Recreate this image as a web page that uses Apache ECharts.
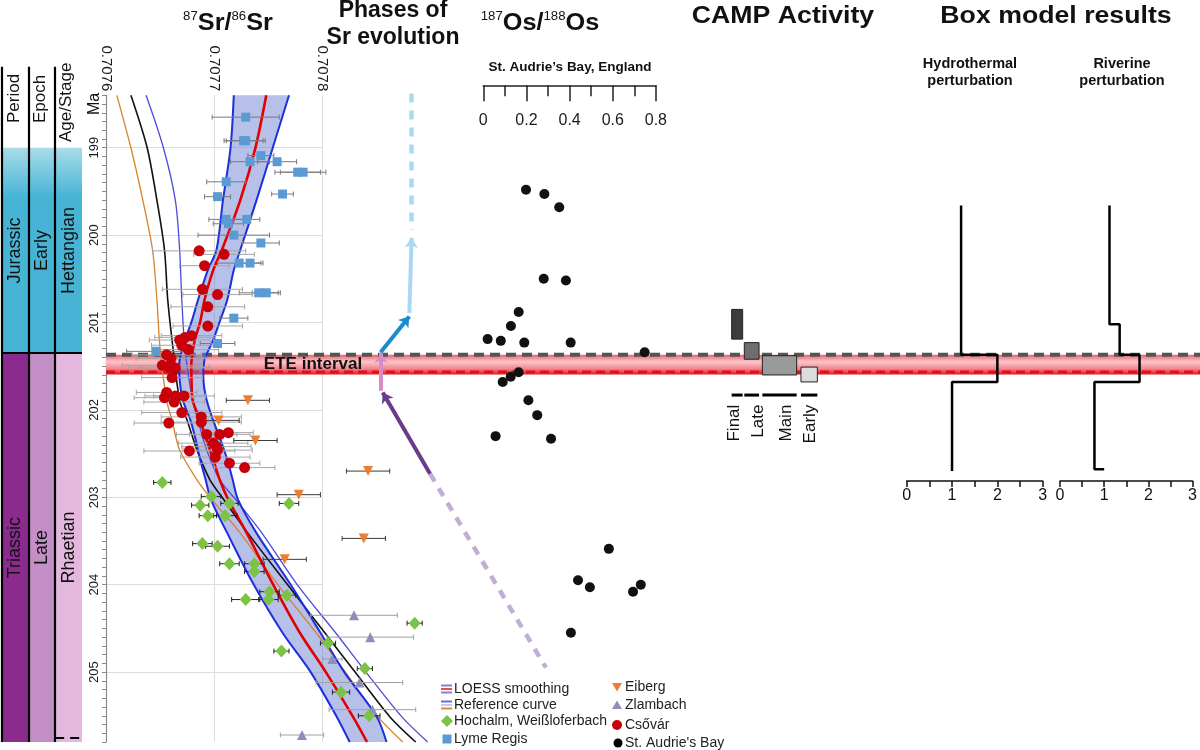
<!DOCTYPE html>
<html><head><meta charset="utf-8">
<script src="https://cdn.jsdelivr.net/npm/echarts@6/dist/echarts.min.js"></script>
<style>html,body{margin:0;padding:0;background:#fff}#c{width:1200px;height:750px}</style>
</head><body><div id="c"></div>
<script>
const FONT = "'Liberation Sans', Arial, Helvetica, sans-serif";

// ---------------- axis values ----------------
const srTicks = [0.7076, 0.7077, 0.7078];
const maRange = [198.4, 205.8];
const maStep = 0.1;
const osRange = [0, 0.8];
const osStep = 0.2;
const boxRange = [0, 3];

// ---------------- Sr curves ----------------
const loessMa   = [198.40,199.00,199.60,200.17,200.40,200.74,200.99,201.20,201.43,201.66,201.89,202.12,202.35,202.57,202.80,203.03,203.41,203.99,204.55,205.00,205.51,205.80];
const loessMid  = [0.707748,0.707738,0.707724,0.707707,0.707699,0.707691,0.707687,0.707682,0.707679,0.707679,0.707680,0.707687,0.707693,0.707699,0.707705,0.707713,0.707730,0.707754,0.707779,0.707803,0.707828,0.707841];
const loessLow  = [0.707718,0.707715,0.707708,0.707702,0.707694,0.707685,0.707679,0.707673,0.707668,0.707668,0.707671,0.707678,0.707683,0.707687,0.707692,0.707697,0.707712,0.707736,0.707763,0.707789,0.707813,0.707825];
const loessHigh = [0.707769,0.707754,0.707739,0.707724,0.707718,0.707712,0.707705,0.707699,0.707691,0.707690,0.707693,0.707699,0.707706,0.707712,0.707717,0.707722,0.707739,0.707770,0.707798,0.707820,0.707850,0.707859];

const refMa   = [198.40,199.00,199.60,200.17,200.74,201.31,201.89,202.12,202.46,202.80,203.03,203.41,203.99,204.55,205.00,205.51,205.80];
const refMid  = [0.707623,0.707638,0.707647,0.707654,0.707657,0.707662,0.707668,0.707675,0.707684,0.707696,0.707709,0.707731,0.707767,0.707802,0.707830,0.707862,0.707886];
const refLow  = [0.707610,0.707623,0.707634,0.707643,0.707647,0.707650,0.707656,0.707661,0.707668,0.707684,0.707698,0.707724,0.707758,0.707794,0.707821,0.707851,0.707874];
const refHigh = [0.707637,0.707653,0.707664,0.707668,0.707670,0.707673,0.707680,0.707685,0.707693,0.707705,0.707720,0.707744,0.707776,0.707812,0.707840,0.707873,0.707897];

// ---------------- Sr samples [Sr, Ma, ±err] ----------------
const lymeRegis = [
 [0.707729,198.65,31e-6],[0.707727,198.92,18e-6],[0.707729,198.92,18e-6],[0.707743,199.09,12e-6],
 [0.707733,199.16,18e-6],[0.707758,199.16,18e-6],[0.707777,199.28,21e-6],[0.707782,199.28,21e-6],
 [0.707711,199.39,18e-6],[0.707703,199.56,12e-6],[0.707763,199.53,10e-6],[0.707711,199.82,16e-6],
 [0.707730,199.82,12e-6],[0.707713,199.87,14e-6],[0.707718,200.00,33e-6],[0.707743,200.09,17e-6],
 [0.707723,200.32,20e-6],[0.707733,200.32,12e-6],[0.707741,200.66,18e-6],[0.707748,200.66,13e-6],
 [0.707718,200.95,13e-6],[0.707703,201.24,16e-6],[0.707646,201.33,27e-6]
];
const csovar = [
 [0.707686,200.18,43e-6],[0.707709,200.22,28e-6],[0.707691,200.35,23e-6],[0.707689,200.62,37e-6],
 [0.707703,200.68,32e-6],[0.707694,200.82,34e-6],[0.707694,201.04,32e-6],[0.707668,201.20,28e-6],
 [0.707673,201.17,28e-6],[0.707679,201.15,28e-6],[0.707670,201.26,28e-6],[0.707676,201.31,28e-6],
 [0.707656,201.37,32e-6],[0.707660,201.41,32e-6],[0.707652,201.49,37e-6],[0.707658,201.51,37e-6],
 [0.707664,201.52,32e-6],[0.707661,201.63,28e-6],[0.707656,201.80,28e-6],[0.707654,201.86,28e-6],
 [0.707664,201.84,28e-6],[0.707663,201.91,28e-6],[0.707672,201.84,28e-6],[0.707670,202.03,37e-6],
 [0.707658,202.15,32e-6],[0.707688,202.08,37e-6],[0.707688,202.14,37e-6],[0.707693,202.28,28e-6],
 [0.707705,202.28,28e-6],[0.707713,202.26,23e-6],[0.707699,202.38,32e-6],[0.707702,202.42,32e-6],
 [0.707703,202.46,32e-6],[0.707701,202.54,32e-6],[0.707677,202.47,42e-6],[0.707714,202.61,28e-6],
 [0.707728,202.66,28e-6]
];
const eiberg = [
 [0.707731,201.89,20e-6],[0.707704,202.12,19e-6],[0.707738,202.35,20e-6],[0.707842,202.70,20e-6],
 [0.707778,202.97,20e-6],[0.707838,203.47,20e-6],[0.707765,203.71,20e-6]
];
const hochalm = [
 [0.707652,202.83,8e-6],[0.707697,202.99,9e-6],[0.707687,203.09,8e-6],[0.707714,203.07,8e-6],
 [0.707769,203.07,9e-6],[0.707694,203.21,8e-6],[0.707710,203.21,11e-6],[0.707689,203.53,9e-6],
 [0.707703,203.56,11e-6],[0.707714,203.76,9e-6],[0.707737,203.76,9e-6],[0.707737,203.85,9e-6],
 [0.707751,204.08,9e-6],[0.707767,204.12,8e-6],[0.707729,204.17,13e-6],[0.707750,204.17,9e-6],
 [0.707885,204.44,7e-6],[0.707805,204.67,7e-6],[0.707762,204.76,7e-6],[0.707839,204.96,7e-6],
 [0.707817,205.23,8e-6],[0.707843,205.50,10e-6]
];
const zlambach = [
 [0.707829,204.35,40e-6],[0.707844,204.60,40e-6],[0.707809,204.85,9e-6],
 [0.707834,205.12,40e-6],[0.707846,205.43,40e-6],[0.707781,205.72,20e-6]
];

// ---------------- Os [187Os/188Os, Ma] ----------------
const osStAudrie = [
 [0.198,199.48],[0.283,199.53],[0.352,199.68],[0.280,200.50],[0.383,200.52],[0.164,200.88],
 [0.128,201.04],[0.020,201.19],[0.081,201.21],[0.190,201.23],[0.405,201.23],[0.748,201.34],
 [0.164,201.57],[0.127,201.62],[0.090,201.68],[0.209,201.89],[0.250,202.06],[0.057,202.30],
 [0.314,202.33],[0.582,203.59],[0.439,203.95],[0.494,204.03],[0.730,204.00],[0.694,204.08],
 [0.406,204.55]
];

// ---------------- ETE interval (Ma) ----------------
const eteTop = 201.37, eteRed = 201.565, eteBandBase = 201.595;

// ---------------- Phases of Sr evolution [x0, Ma0, x1, Ma1] (x: 0..1 within column) ----------------
const phaseArrows  = [[0.207,200.89,0.219,200.03],[0.056,201.34,0.207,200.93],[0.058,201.78,0.058,201.35],[0.316,202.73,0.067,201.80]];
const phaseDashed  = [[0.219,198.38,0.219,199.94],[0.316,202.73,0.926,204.95]];

// ---------------- CAMP activity ----------------
const campNames = ['Final','Late','Main','Early'];
const campX0 = [0.106,0.221,0.385,0.736];
const campX1 = [0.206,0.355,0.697,0.885];
const campLabelX = [0.132,0.345,0.600,0.818];
const campYoung = [200.85,201.23,201.38,201.51];
const campOld   = [201.19,201.42,201.60,201.68];
const campLineMa = 201.83, campLabelMa = 201.94;

// ---------------- Box model ----------------
const hydroLevels = [1.2, 2.0, 1.0];
const hydroBreaks = [199.66, 201.37, 201.68, 202.70];
const riverLevels = [1.12, 1.35, 1.8, 0.78];
const riverBreaks = [199.66, 201.02, 201.37, 201.68, 202.68];
const riverTail = 1.0;

// ---------------- Stratigraphy ----------------
const stratNames = ['Jurassic','Triassic','Early','Late','Hettangian','Rhaetian'];
const stratCol   = [0,0,1,1,2,2];
const stratTop   = [199.0,201.35,199.0,201.35,199.0,201.35];
const stratBase  = [201.35,205.8,201.35,205.8,201.35,205.8];
const stratBoundary = 201.35;
const rhaetianBaseMa = 205.75;

// ---------------- legend ----------------
const legendLeft = ['LOESS smoothing','Reference curve','Hochalm, Weißloferbach','Lyme Regis'];
const legendRight = ['Eiberg','Zlambach','Csővár',"St. Audrie's Bay"];

// ================= layout =================
const TOP = 95.3, H = 646.7;
const pxPerMa = H / (maRange[1] - maRange[0]);
const boxH = 481 - TOP;
const boxMax = maRange[0] + boxH / pxPerMa;
const headerMa = maRange[0] - (TOP - 66.7) / pxPerMa;

const C = {
  lyme:'#5b9bd5', csovar:'#c8000a', hoch:'#7cc243', eib:'#ed7d31', zlam:'#8f8dbb',
  red:'#e40000', blue:'#1a2fe0', ref:'#111', refLow:'#d9822b', refHigh:'#4b4bdc'
};
const jurFill = () => new echarts.graphic.LinearGradient(0,0,0,1,[{offset:0,color:'#a9dcea'},{offset:0.24,color:'#47b4d5'},{offset:1,color:'#47b4d5'}]);
const stratFills = [jurFill,()=> '#8a2b8d',jurFill,()=> '#c48fc7',jurFill,()=> '#e4b7de'];
const campColors = ['#3c3c3c','#6e6e6e','#9a9a9a','#dcdcdc'];

const nTickToInt = Math.round((Math.ceil(maRange[0]) - maRange[0]) / maStep) % 10;
const gridColors = Array.from({length:10}, (_,i)=> i===nTickToInt ? '#dcdcdc' : 'rgba(0,0,0,0)');

function hiddenX(gi, min, max){ return {type:'value', gridIndex:gi, min, max, show:false}; }
function hiddenY(gi, max){ return {type:'value', gridIndex:gi, min:maRange[0], max:max, inverse:true, show:false}; }

function errRender(color){
  return function(params, api){
    const sr = api.value(0), ma = api.value(1), e = api.value(2);
    const a = api.coord([sr - e, ma]), b = api.coord([sr + e, ma]);
    const st = {stroke: color, lineWidth: 1};
    return {type:'group', children:[
      {type:'line', shape:{x1:a[0],y1:a[1],x2:b[0],y2:b[1]}, style:st},
      {type:'line', shape:{x1:a[0],y1:a[1]-2.5,x2:a[0],y2:a[1]+2.5}, style:st},
      {type:'line', shape:{x1:b[0],y1:b[1]-2.5,x2:b[0],y2:b[1]+2.5}, style:st}
    ]};
  };
}
function errSeries(data, color){
  return {type:'custom', xAxisIndex:1, yAxisIndex:1, data, encode:{x:0,y:1}, renderItem:errRender(color), clip:false, silent:true, z:5};
}
function sc(data, symbol, size, color, extra){
  return Object.assign({type:'scatter', xAxisIndex:1, yAxisIndex:1, data:data.map(d=>[d[0],d[1]]), symbol, symbolSize:size,
    itemStyle:{color, opacity:1}, clip:false, silent:true, z:6}, extra||{});
}
function curve(xs, ys, color, width){
  return {type:'custom', xAxisIndex:1, yAxisIndex:1, data:[[xs[0], ys[0]]], clip:false, silent:true, z:4,
    renderItem:(p, api)=>({type:'polyline', shape:{points: ys.map((m,i)=>api.coord([xs[i], m])), smooth:0.3},
      style:{stroke:color, lineWidth:width, fill:null}})};
}
function stepData(levels, breaks, tail){
  const pts = [];
  levels.forEach((v,i)=>{ pts.push([v, breaks[i]]); pts.push([v, breaks[i+1]]); });
  if (tail !== undefined) pts.push([tail, breaks[breaks.length-1]]);
  return pts;
}
function txt(x, y, text, size, opts){
  opts = opts || {};
  const align = opts.align || 'center', va = opts.va || 'middle';
  return {type:'text', x, y, rotation: opts.rot || 0, scaleX: opts.sx || 1, silent:true, z:50,
    style:{text, fontSize:size, fontFamily:FONT, fontWeight: opts.bold ? 'bold':'normal', fill: opts.color || '#111',
      align, textAlign:align, verticalAlign:va, textVerticalAlign:va, lineHeight: opts.lh, rich: opts.rich}};
}

const richTitle = {
  sup:{fontSize:12, fontFamily:FONT, verticalAlign:'top', lineHeight:14, fill:'#111'},
  b:{fontSize:23, fontFamily:FONT, fontWeight:'bold', lineHeight:26, fill:'#111'}
};

const graphics = [
  txt(228, 23.5, '{sup|87}{b|Sr/}{sup|86}{b|Sr}', 23, {sx:1.1, rich:richTitle}),
  txt(540, 23.5, '{sup|187}{b|Os/}{sup|188}{b|Os}', 23, {sx:1.1, rich:richTitle}),
  txt(393, 24.5, 'Phases of\nSr evolution', 23, {bold:true, lh:27}),
  txt(783, 17, 'CAMP Activity', 23, {bold:true, sx:1.16}),
  txt(1056, 17, 'Box model results', 23, {bold:true, sx:1.16}),
  txt(570, 67, "St. Audrie’s Bay, England", 13.5, {bold:true}),
  txt(970, 72, 'Hydrothermal\nperturbation', 14.5, {bold:true, lh:17}),
  txt(1122, 72, 'Riverine\nperturbation', 14.5, {bold:true, lh:17}),
  txt(14, 123, 'Period', 17, {rot:Math.PI/2, align:'left'}),
  txt(40, 123, 'Epoch', 17, {rot:Math.PI/2, align:'left'}),
  txt(66, 142, 'Age/Stage', 17, {rot:Math.PI/2, align:'left'}),
  txt(95, 104, 'Ma', 16, {rot:Math.PI/2}),
  txt(313, 364.5, 'ETE interval', 17, {bold:true, color:'#111'})
];
// legend
const legY1 = [689, 705, 721, 739], legY2 = [687, 705, 725, 743];
legendLeft.forEach((t,i)=> graphics.push(txt(454, legY1[i], t, 14, {align:'left', color:'#222'})));
legendRight.forEach((t,i)=> graphics.push(txt(625, legY2[i], t, 14, {align:'left', color:'#222'})));
[['#8c7fc4','#e0505a','#8c7fc4'],['#6a6ae0','#c8c8ee','#e08a30']].forEach((cols,k)=>{
  cols.forEach((c,j)=> graphics.push({type:'rect', silent:true, z:50, shape:{x:441, y:legY1[k]-4.5+j*3.5, width:11, height:2}, style:{fill:c}}));
});
graphics.push({type:'polygon', silent:true, z:50, shape:{points:[[447,legY1[2]-6],[453,legY1[2]],[447,legY1[2]+6],[441,legY1[2]]]}, style:{fill:C.hoch}});
graphics.push({type:'rect', silent:true, z:50, shape:{x:442.5, y:legY1[3]-4.5, width:9, height:9}, style:{fill:C.lyme}});
graphics.push({type:'polygon', silent:true, z:50, shape:{points:[[612,legY2[0]-4],[622,legY2[0]-4],[617,legY2[0]+4.5]]}, style:{fill:C.eib}});
graphics.push({type:'polygon', silent:true, z:50, shape:{points:[[612,legY2[1]+4],[622,legY2[1]+4],[617,legY2[1]-4.5]]}, style:{fill:C.zlam}});
graphics.push({type:'circle', silent:true, z:50, shape:{cx:617, cy:legY2[2], r:5}, style:{fill:C.csovar}});
graphics.push({type:'circle', silent:true, z:50, shape:{cx:618, cy:legY2[3], r:4.5}, style:{fill:'#000'}});

const option = {
  animation:false,
  backgroundColor:'#fff',
  textStyle:{fontFamily:FONT},
  grid:[
    {left:1.5, top:TOP, width:80.5, height:H},          // 0 strat
    {left:106, top:TOP, width:216.6, height:H},         // 1 Sr
    {left:106, top:TOP, width:1094, height:H},          // 2 ETE band
    {left:370, top:TOP, width:190, height:H},           // 3 phases
    {left:483.3, top:TOP, width:172.6, height:H},       // 4 Os
    {left:720, top:TOP, width:110, height:H},           // 5 CAMP
    {left:906.7, top:TOP, width:136, height:boxH},      // 6 hydro
    {left:1060, top:TOP, width:136, height:boxH}        // 7 river
  ],
  xAxis:[
    hiddenX(0,0,3),
    {type:'value', gridIndex:1, position:'top', min:srTicks[0], max:srTicks[srTicks.length-1], interval:+(srTicks[1]-srTicks[0]).toFixed(6),
      axisLine:{show:false, onZero:false}, axisTick:{show:false},
      axisLabel:{rotate:90, margin:4, fontSize:15, color:'#1a1a1a', fontFamily:FONT, formatter:v=>v.toFixed(4)},
      splitLine:{show:true, lineStyle:{color:'#dcdcdc', width:1}}},
    hiddenX(2,0,1),
    hiddenX(3,0,1),
    {type:'value', gridIndex:4, position:'top', offset:10, min:osRange[0], max:osRange[1], interval:osStep,
      axisLine:{show:true, onZero:false, lineStyle:{color:'#222', width:1.5}},
      axisTick:{show:true, inside:true, length:16, lineStyle:{color:'#222', width:1.5}},
      minorTick:{show:true, splitNumber:2, length:11, lineStyle:{color:'#222', width:1.5}},
      axisLabel:{inside:true, margin:27, fontSize:16, color:'#1a1a1a', fontFamily:FONT},
      splitLine:{show:false}},
    hiddenX(5,0,1),
    ...[6,7].map(gi=>({type:'value', gridIndex:gi, position:'bottom', min:boxRange[0], max:boxRange[1], interval:1,
      axisLine:{show:true, onZero:false, lineStyle:{color:'#111', width:1.5}},
      axisTick:{show:true, inside:false, length:6, lineStyle:{color:'#111', width:1.5}},
      minorTick:{show:true, splitNumber:2, length:6, lineStyle:{color:'#111', width:1.5}},
      axisLabel:{margin:7, fontSize:16, color:'#111', fontFamily:FONT},
      splitLine:{show:false}}))
  ],
  yAxis:[
    hiddenY(0, maRange[1]),
    {type:'value', gridIndex:1, inverse:true, min:maRange[0], max:maRange[1], interval:maStep,
      axisLine:{show:true, onZero:false, lineStyle:{color:'#8a8a8a', width:1.2}},
      axisTick:{show:true, length:4, lineStyle:{color:'#8a8a8a'}},
      axisLabel:{rotate:90, margin:5, fontSize:13, color:'#1a1a1a', fontFamily:FONT,
        formatter:v=> Math.abs(v-Math.round(v))<1e-6 ? String(Math.round(v)) : ''},
      splitLine:{show:true, lineStyle:{color:gridColors, width:1}}},
    hiddenY(2, maRange[1]), hiddenY(3, maRange[1]), hiddenY(4, maRange[1]), hiddenY(5, maRange[1]),
    hiddenY(6, boxMax), hiddenY(7, boxMax)
  ],
  series:[
    // ETE band
    {type:'custom', xAxisIndex:2, yAxisIndex:2, data:[[0, eteTop]], clip:false, silent:true, z:1,
      renderItem:(p, api)=>{
        const a = api.coord([0, eteTop]), b = api.coord([1, eteBandBase]);
        return {type:'rect', shape:{x:a[0], y:a[1], width:b[0]-a[0], height:b[1]-a[1]},
          style:{fill:new echarts.graphic.LinearGradient(0,0,0,1,[{offset:0,color:'#f0606c'},{offset:0.35,color:'#fac6cb'},{offset:0.7,color:'#f4868e'},{offset:1,color:'#e3121c'}])}};
      }},
    {type:'line', xAxisIndex:2, yAxisIndex:2, data:[[0,eteTop],[1,eteTop]], showSymbol:false, symbol:'none', silent:true, z:2,
      lineStyle:{color:'#555', width:4, type:[10,6]}},
    {type:'line', xAxisIndex:2, yAxisIndex:2, data:[[0,eteRed],[1,eteRed]], showSymbol:false, symbol:'none', silent:true, z:2,
      lineStyle:{color:'#e0101a', width:3, type:[9,5]}},
    // stratigraphy
    {type:'custom', xAxisIndex:0, yAxisIndex:0, data:stratNames.map((n,i)=>[stratCol[i], stratTop[i], stratBase[i]]), clip:false, silent:true, z:3,
      renderItem:(p, api)=>{
        const i = p.dataIndex;
        const a = api.coord([stratCol[i], stratTop[i]]), b = api.coord([stratCol[i]+1, stratBase[i]]);
        return {type:'group', children:[
          {type:'rect', shape:{x:a[0], y:a[1], width:b[0]-a[0], height:b[1]-a[1]}, style:{fill:stratFills[i]()}},
          {type:'text', x:(a[0]+b[0])/2, y:(a[1]+b[1])/2, rotation:Math.PI/2,
            style:{text:stratNames[i], fontSize:18, fontFamily:FONT, fill:'#111', align:'center', textAlign:'center', verticalAlign:'middle', textVerticalAlign:'middle'}}
        ]};
      }},
    {type:'lines', coordinateSystem:'cartesian2d', xAxisIndex:0, yAxisIndex:0, clip:false, silent:true, z:4,
      lineStyle:{color:'#000', width:2.2, opacity:1},
      data:[0,1,2].map(c=>({coords:[[c, headerMa],[c, maRange[1]]]})).concat([{coords:[[0, stratBoundary],[3, stratBoundary]]}])},
    {type:'lines', coordinateSystem:'cartesian2d', xAxisIndex:0, yAxisIndex:0, clip:false, silent:true, z:4,
      lineStyle:{color:'#000', width:2, opacity:1, type:[9,6]},
      data:[{coords:[[2, rhaetianBaseMa],[3, rhaetianBaseMa]]}]},
    // Sr LOESS band
    {type:'custom', xAxisIndex:1, yAxisIndex:1, data:[[loessMid[0], loessMa[0]]], clip:false, silent:true, z:3,
      renderItem:(p, api)=>{
        const pts = [];
        loessMa.forEach((m,i)=> pts.push(api.coord([loessLow[i], m])));
        for (let i = loessMa.length-1; i >= 0; i--) pts.push(api.coord([loessHigh[i], loessMa[i]]));
        return {type:'polygon', shape:{points:pts}, style:{fill:'rgba(110,130,212,0.5)'}};
      }},
    curve(refLow, refMa, C.refLow, 1.3),
    curve(refHigh, refMa, C.refHigh, 1.3),
    curve(refMid, refMa, C.ref, 1.6),
    curve(loessLow, loessMa, C.blue, 2),
    curve(loessHigh, loessMa, C.blue, 2),
    curve(loessMid, loessMa, C.red, 2.6),
    errSeries(lymeRegis, '#7a7a7a'),
    errSeries(csovar, '#a5a5a5'),
    errSeries(eiberg, '#3a3a3a'),
    errSeries(hochalm, '#222'),
    errSeries(zlambach, '#a0a0a0'),
    sc(lymeRegis, 'rect', 9, C.lyme),
    sc(eiberg, 'triangle', 10, C.eib, {symbolRotate:180}),
    sc(zlambach, 'triangle', 10, C.zlam),
    sc(hochalm, 'diamond', [12,13], C.hoch),
    sc(csovar, 'circle', 11, C.csovar),
    // phases
    {type:'lines', coordinateSystem:'cartesian2d', xAxisIndex:3, yAxisIndex:3, clip:false, silent:true, z:6,
      symbol:['none','none'], lineStyle:{width:4.5, opacity:1, type:[9,8]},
      data:phaseDashed.map((d,i)=>({coords:[[d[0],d[1]],[d[2],d[3]]], lineStyle:{color:['#a9d9f2','#c2aed4'][i]}}))},
    {type:'lines', coordinateSystem:'cartesian2d', xAxisIndex:3, yAxisIndex:3, clip:false, silent:true, z:6,
      symbol:['none','arrow'], symbolSize:10, lineStyle:{width:4, opacity:1},
      data:phaseArrows.map((d,i)=>({coords:[[d[0],d[1]],[d[2],d[3]]], lineStyle:{color:['#a9d9f2','#1b8ad0','#d98bc8','#6b3a8a'][i]}}))},
    // Os
    {type:'scatter', xAxisIndex:4, yAxisIndex:4, data:osStAudrie, symbol:'circle', symbolSize:10, itemStyle:{color:'#111', opacity:1}, clip:false, silent:true, z:6},
    // CAMP
    {type:'custom', xAxisIndex:5, yAxisIndex:5, data:campNames.map((n,i)=>[campX0[i], campYoung[i], campX1[i], campOld[i]]), clip:false, silent:true, z:6,
      renderItem:(p, api)=>{
        const i = p.dataIndex;
        const a = api.coord([campX0[i], campYoung[i]]), b = api.coord([campX1[i], campOld[i]]);
        const d0 = api.coord([campX0[i], campLineMa]), d1 = api.coord([campX1[i], campLineMa]);
        const lab = api.coord([campLabelX[i], campLabelMa]);
        return {type:'group', children:[
          {type:'rect', shape:{x:a[0], y:a[1], width:b[0]-a[0], height:b[1]-a[1]}, style:{fill:campColors[i], stroke:'#222', lineWidth:1}},
          {type:'line', shape:{x1:d0[0], y1:d0[1], x2:d1[0], y2:d1[1]}, style:{stroke:'#000', lineWidth:3}},
          {type:'text', x:lab[0], y:lab[1], rotation:Math.PI/2,
            style:{text:campNames[i], fontSize:17, fontFamily:FONT, fill:'#111', align:'right', textAlign:'right', verticalAlign:'middle', textVerticalAlign:'middle'}}
        ]};
      }},
    // Box model
    {type:'line', xAxisIndex:6, yAxisIndex:6, data:stepData(hydroLevels, hydroBreaks), showSymbol:false, symbol:'none', silent:true, z:6,
      lineStyle:{color:'#000', width:2.5}},
    {type:'line', xAxisIndex:7, yAxisIndex:7, data:stepData(riverLevels, riverBreaks, riverTail), showSymbol:false, symbol:'none', silent:true, z:6,
      lineStyle:{color:'#000', width:2.5}}
  ],
  graphic:{elements:graphics}
};

const chart = echarts.init(document.getElementById('c'), null, {renderer:'canvas'});
chart.setOption(option);
</script></body></html>
